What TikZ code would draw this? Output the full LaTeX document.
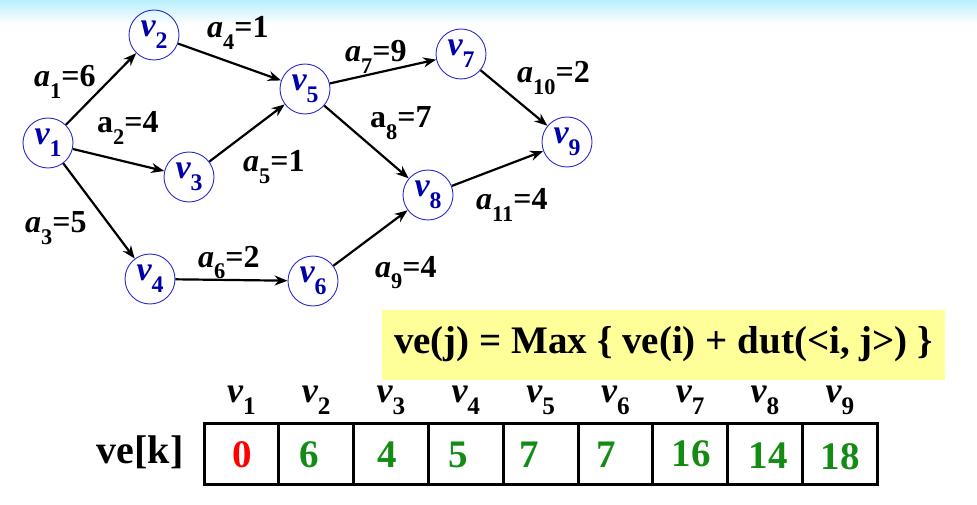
\documentclass[tikz,border=0pt]{standalone}
\usepackage{fontspec}
\setmainfont{Liberation Serif}
\usetikzlibrary{arrows.meta, positioning}
\definecolor{vblue}{RGB}{40,40,210}
\definecolor{vtext}{RGB}{0,0,170}
\definecolor{formulabg}{RGB}{255,255,153}
\definecolor{valgreen}{RGB}{20,140,20}
\definecolor{topband}{RGB}{185,238,252}
\newcommand{\lowsub}[1]{\raisebox{-0.36em}{\scalebox{0.7}{\upshape #1}}}

\begin{document}
\begin{tikzpicture}[
  x=1pt, y=-1pt,
  vertex/.style={circle, draw=vblue, line width=0.9pt, minimum size=50pt, inner sep=0pt, text=vtext, font=\fontsize{34}{34}\selectfont\bfseries\itshape},
  arc/.style={-{Stealth[length=13pt, width=10pt]}, line width=2.2pt},
  wlabel/.style={anchor=base west, inner sep=0pt, font=\fontsize{32}{32}\selectfont\bfseries},
  cell/.style={draw, line width=3pt, outer sep=0pt, minimum width=74.8pt, minimum height=61pt, inner sep=0pt},
  head/.style={anchor=base, inner sep=0pt, font=\fontsize{36}{36}\selectfont\bfseries\itshape},
  val/.style={anchor=base, inner sep=0pt, text=valgreen, font=\fontsize{39}{39}\selectfont\bfseries}
]
\useasboundingbox (0,0) rectangle (977,505);
\shade[top color=topband, bottom color=white] (0,0) rectangle (977,24);

% graph
\node[vertex] (v1) at (48,143) {v\lowsub{1}};
\node[vertex] (v2) at (154,35) {v\lowsub{2}};
\node[vertex] (v3) at (189,177) {v\lowsub{3}};
\node[vertex] (v4) at (150,279) {v\lowsub{4}};
\node[vertex] (v5) at (305,89) {v\lowsub{5}};
\node[vertex] (v6) at (313,281) {v\lowsub{6}};
\node[vertex] (v7) at (461,54) {v\lowsub{7}};
\node[vertex] (v8) at (428,195) {v\lowsub{8}};
\node[vertex] (v9) at (567,142) {v\lowsub{9}};

\draw[arc] (v1) -- (v2);
\draw[arc] (v1) -- (v3);
\draw[arc] (v1) -- (v4);
\draw[arc] (v2) -- (v5);
\draw[arc] (v3) -- (v5);
\draw[arc] (v4) -- (v6);
\draw[arc] (v5) -- (v7);
\draw[arc] (v5) -- (v8);
\draw[arc] (v6) -- (v8);
\draw[arc] (v7) -- (v9);
\draw[arc] (v8) -- (v9);

\node[wlabel] (l1) at (34,87) {\textit{a}\lowsub{1}=6};
\node[wlabel] (l2) at (97,133) {a\lowsub{2}=4};
\node[wlabel] (l3) at (25,233) {\textit{a}\lowsub{3}=5};
\node[wlabel] (l4) at (207,38) {\textit{a}\lowsub{4}=1};
\node[wlabel] (l5) at (243,172) {\textit{a}\lowsub{5}=1};
\node[wlabel] (l6) at (198,267) {\textit{a}\lowsub{6}=2};
\node[wlabel] (l7) at (345,62) {\textit{a}\lowsub{7}=9};
\node[wlabel] (l8) at (370,128) {a\lowsub{8}=7};
\node[wlabel] (l9) at (375,277) {\textit{a}\lowsub{9}=4};
\node[wlabel] (l10) at (517,83) {\textit{a}\lowsub{10}=2};
\node[wlabel] (l11) at (476,210) {\textit{a}\lowsub{11}=4};

% formula
\node[fill=formulabg, minimum width=563pt, minimum height=70pt, inner sep=0pt,
  font=\fontsize{39}{39}\selectfont\bfseries] (rule) at (663.5,344.5)
  {ve(j) = Max \{ ve(i) + dut(<i, j>) \}};

% table
\node[cell] (c1) at (241.4,453.5) {};
\node[cell, right=0pt of c1] (c2) {};
\node[cell, right=0pt of c2] (c3) {};
\node[cell, right=0pt of c3] (c4) {};
\node[cell, right=0pt of c4] (c5) {};
\node[cell, right=0pt of c5] (c6) {};
\node[cell, right=0pt of c6] (c7) {};
\node[cell, right=0pt of c7] (c8) {};
\node[cell, right=0pt of c8] (c9) {};

\node[head] (h1) at ([yshift=21pt]c1.north) {v\lowsub{1}};
\node[head] (h2) at ([yshift=21pt]c2.north) {v\lowsub{2}};
\node[head] (h3) at ([yshift=21pt]c3.north) {v\lowsub{3}};
\node[head] (h4) at ([yshift=21pt]c4.north) {v\lowsub{4}};
\node[head] (h5) at ([yshift=21pt]c5.north) {v\lowsub{5}};
\node[head] (h6) at ([yshift=21pt]c6.north) {v\lowsub{6}};
\node[head] (h7) at ([yshift=21pt]c7.north) {v\lowsub{7}};
\node[head] (h8) at ([yshift=21pt]c8.north) {v\lowsub{8}};
\node[head] (h9) at ([yshift=21pt]c9.north) {v\lowsub{9}};

\node[val, text=red] (n1) at (242,467) {0};
\node[val] (n2) at (309,467) {6};
\node[val] (n3) at (387,467) {4};
\node[val] (n4) at (458,467) {5};
\node[val] (n5) at (529,467) {7};
\node[val] (n6) at (606,467) {7};
\node[val] (n7) at (691,466) {16};
\node[val] (n8) at (768,468) {14};
\node[val] (n9) at (840,469) {18};

\node[anchor=base, inner sep=0pt, font=\fontsize{40}{40}\selectfont\bfseries] (vek) at (140,463) {ve[k]};
\end{tikzpicture}
\end{document}
